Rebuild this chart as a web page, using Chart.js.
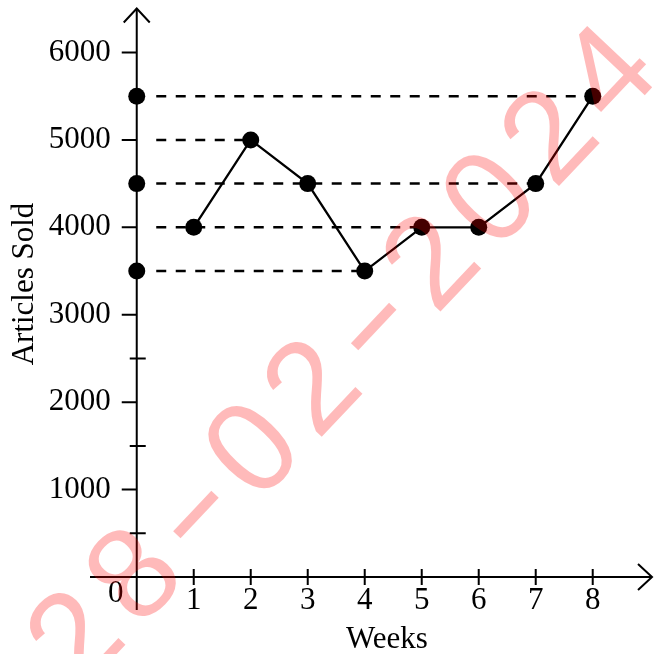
<!DOCTYPE html>
<html lang="en">
<head>
  <meta charset="UTF-8">
  <title>Articles Sold per Week</title>
  <script src="https://cdn.jsdelivr.net/npm/chart.js"></script>
  <style>
    body {
      margin: 0;
      background-color: #ffffff;
    }

    .chart-wrap {
      width: 665px;
      height: 654px;
    }
  </style>
</head>
<body>
  <div class="chart-wrap">
    <canvas id="salesChart" width="665" height="654"></canvas>
  </div>

  <script>
    // Sales per week
    const weeks = [1, 2, 3, 4, 5, 6, 7, 8];
    const articlesSold = [4000, 5000, 4500, 3500, 4000, 4000, 4500, 5500];

    // Dashed read-off lines: level on the y axis and the week where it meets the graph
    const guideLevels = [5500, 5000, 4500, 4000, 3500];
    const guideWeeks = [8, 2, 7, 5, 4];

    // Levels marked with a dot on the y axis
    const axisDots = [5500, 4500, 3500];

    // Tick labels
    const xTickLabels = ['1', '2', '3', '4', '5', '6', '7', '8'];
    const yTickValues = [1000, 2000, 3000, 4000, 5000, 6000];
    const yTickLabels = ['1000', '2000', '3000', '4000', '5000', '6000'];
    const yMinorTicks = [500, 1500, 2500];

    const watermarkText = '28-02-2024';

    const serif = '"Liberation Serif", "Times New Roman", serif';

    // Axes crossing at the origin, with arrow heads
    const crossAxes = {
      id: 'crossAxes',
      beforeDatasetsDraw(chart) {
        const { ctx, chartArea, scales: { x, y } } = chart;
        const x0 = x.getPixelForValue(0);
        const y0 = y.getPixelForValue(0);

        ctx.save();
        ctx.strokeStyle = '#000';
        ctx.lineWidth = 2;
        ctx.beginPath();
        ctx.moveTo(chartArea.left, y0);
        ctx.lineTo(chartArea.right, y0);
        ctx.moveTo(x0, chartArea.bottom);
        ctx.lineTo(x0, chartArea.top);
        ctx.stroke();

        // arrow heads
        ctx.beginPath();
        ctx.moveTo(chartArea.right - 14, y0 - 13);
        ctx.lineTo(chartArea.right, y0);
        ctx.lineTo(chartArea.right - 14, y0 + 13);
        ctx.moveTo(x0 - 13, chartArea.top + 14);
        ctx.lineTo(x0, chartArea.top);
        ctx.lineTo(x0 + 13, chartArea.top + 14);
        ctx.stroke();

        // tick marks
        ctx.beginPath();
        weeks.forEach(w => {
          const px = x.getPixelForValue(w);
          ctx.moveTo(px, y0 - 8);
          ctx.lineTo(px, y0 + 8);
        });
        yTickValues.forEach(v => {
          const py = y.getPixelForValue(v);
          ctx.moveTo(x0 - 15, py);
          ctx.lineTo(x0, py);
        });
        yMinorTicks.forEach(v => {
          const py = y.getPixelForValue(v);
          ctx.moveTo(x0 - 7, py);
          ctx.lineTo(x0 + 9, py);
        });
        ctx.stroke();

        // tick labels
        ctx.fillStyle = '#000';
        ctx.font = '31px ' + serif;
        ctx.textAlign = 'center';
        ctx.textBaseline = 'alphabetic';
        xTickLabels.forEach((t, i) => {
          ctx.fillText(t, x.getPixelForValue(weeks[i]), y0 + 32);
        });
        ctx.fillText('0', x0 - 21, y0 + 25);

        ctx.textAlign = 'right';
        ctx.textBaseline = 'middle';
        yTickLabels.forEach((t, i) => {
          ctx.fillText(t, x0 - 26, y.getPixelForValue(yTickValues[i]));
        });

        // axis titles
        ctx.textAlign = 'center';
        ctx.textBaseline = 'alphabetic';
        ctx.fillText('Weeks', 387, 648);
        ctx.translate(33, 284);
        ctx.rotate(-Math.PI / 2);
        ctx.fillText('Articles Sold', 0, 0);
        ctx.restore();
      }
    };

    // Date stamp across the picture, one character per slot
    const dateStamp = {
      id: 'dateStamp',
      afterDraw(chart) {
        const ctx = chart.ctx;
        const size = 130;
        const step = 86.3;
        ctx.save();
        ctx.translate(338, 352);
        ctx.rotate(-46.6 * Math.PI / 180);
        ctx.fillStyle = 'rgba(255, 0, 0, 0.27)';
        ctx.font = size + 'px "Liberation Sans", Arial, sans-serif';
        ctx.textAlign = 'center';
        ctx.textBaseline = 'alphabetic';
        [...watermarkText].forEach((ch, i) => {
          const cx = (i - 4.5) * step;
          if (ch === '-') {
            ctx.save();
            ctx.translate(cx, size * 0.33);
            ctx.scale(1.75, 1);
            ctx.fillText(ch, 0, 0);
            ctx.restore();
          } else {
            ctx.fillText(ch, cx, size * 0.358);
          }
        });
        ctx.restore();
      }
    };

    const guideSets = guideLevels.map((level, i) => ({
      label: 'guide ' + level,
      data: [{ x: 0, y: level }, { x: guideWeeks[i], y: level }],
      showLine: true,
      borderColor: '#000',
      borderWidth: 2.5,
      borderDash: [10, 9.5],
      pointRadius: 0,
      clip: { left: -60, top: false, right: false, bottom: false },
      order: 2
    }));

    new Chart(document.getElementById('salesChart'), {
      type: 'scatter',
      data: {
        datasets: [
          {
            label: 'Articles Sold',
            data: weeks.map((w, i) => ({ x: w, y: articlesSold[i] })),
            showLine: true,
            borderColor: '#000',
            borderWidth: 2.3,
            pointRadius: 8.5,
            pointBackgroundColor: '#000',
            pointBorderWidth: 0,
            order: 0
          },
          {
            label: 'axis marks',
            data: axisDots.map(v => ({ x: 0, y: v })),
            showLine: false,
            pointRadius: 8.5,
            pointBackgroundColor: '#000',
            pointBorderWidth: 0,
            clip: false,
            order: 1
          },
          ...guideSets
        ]
      },
      options: {
        responsive: false,
        animation: false,
        events: [],
        layout: {
          padding: { left: 90, right: 13, top: 8, bottom: 44 }
        },
        plugins: {
          legend: { display: false },
          tooltip: { enabled: false }
        },
        scales: {
          x: { type: 'linear', min: -0.82, max: 9.04, display: false },
          y: { type: 'linear', min: -377, max: 6503, display: false }
        }
      },
      plugins: [crossAxes, dateStamp]
    });
  </script>
</body>
</html>
